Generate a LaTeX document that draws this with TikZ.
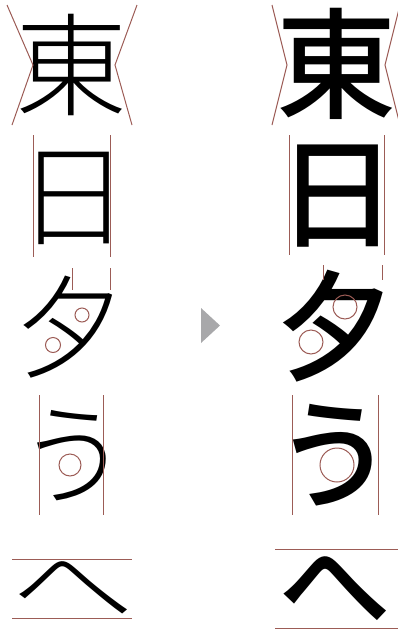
\documentclass[tikz,border=0pt]{standalone}
\usepackage{fontspec}
\usepackage{tikz}
\newfontfamily\jplight{Noto Sans CJK JP Light}
\newfontfamily\jpmedium{Noto Sans CJK JP Medium}
\definecolor{guidered}{RGB}{156,92,86}
\definecolor{pointgray}{RGB}{168,168,170}

\begin{document}
\begin{tikzpicture}[
    x=1pt, y=-1pt,
    guide/.style={draw=guidered,line width=1pt},
    ring/.style={guide,circle,inner sep=0pt},
    glyphL/.style={inner sep=0pt,font=\fontsize{112}{112}\selectfont\jplight},
    glyphR/.style={inner sep=0pt,font=\fontsize{120}{120}\selectfont\jpmedium},
  ]
  \useasboundingbox (0,0) rectangle (398,630);

  % --- left column: glyphs as set ---
  \node[glyphL] (eastL) at (71.5,65)  {東};
  \node[glyphL] (sunL)  at (73.5,198) {日};
  \node[glyphL] (eveL)  at (69,327)   {夕};
  \node[glyphL] (uL)    at (73,456)   {う};
  \node[glyphL] (heL)   at (73,589)   {\scalebox{1.1}[0.82]{へ}};

  % guides, left
  \draw[guide] (7,5) -- (33,65) -- (12,125);
  \draw[guide] (137,5) -- (115,65) -- (132,125);
  \draw[guide] (33,135) -- (33,257);
  \draw[guide] (110,135) -- (110,257);
  \draw[guide] (72,268) -- (72,290);
  \draw[guide] (110,268) -- (110,290);
  \node[ring,minimum size=14pt] (holeL1) at (82,315) {};
  \node[ring,minimum size=15pt] (holeL2) at (53,345) {};
  \draw[guide] (39,395) -- (39,515);
  \draw[guide] (103,395) -- (103,515);
  \node[ring,minimum size=22pt] (holeL3) at (70,465) {};
  \draw[guide] (12,559) -- (132,559);
  \draw[guide] (12,618) -- (132,618);

  % --- pointer ---
  \fill[pointgray] (201,308) -- (220,325.5) -- (201,343) -- cycle;

  % --- right column: adjusted glyphs ---
  \node[glyphR] (eastR) at (336,64)  {東};
  \node[glyphR] (sunR)  at (337,196) {日};
  \node[glyphR] (eveR)  at (335,326) {夕};
  \node[glyphR] (uR)    at (334,455) {う};
  \node[glyphR] (heR)   at (335,589) {\scalebox{0.94}[0.86]{へ}};

  % guides, right
  \draw[guide] (272,5) -- (287,65) -- (272,125);
  \draw[guide] (400,5) -- (385,65) -- (400,125);
  \draw[guide] (289,135) -- (289,255);
  \draw[guide] (384,135) -- (384,255);
  \draw[guide] (323,265) -- (323,280);
  \draw[guide] (382,265) -- (382,280);
  \node[ring,minimum size=24pt] (holeR1) at (345,307) {};
  \node[ring,minimum size=24pt] (holeR2) at (311,342) {};
  \draw[guide] (292,395) -- (292,515);
  \draw[guide] (378,395) -- (378,515);
  \node[ring,minimum size=34pt] (holeR3) at (337,465) {};
  \draw[guide] (275,549) -- (400,549);
  \draw[guide] (275,628) -- (400,628);

\end{tikzpicture}
\end{document}
